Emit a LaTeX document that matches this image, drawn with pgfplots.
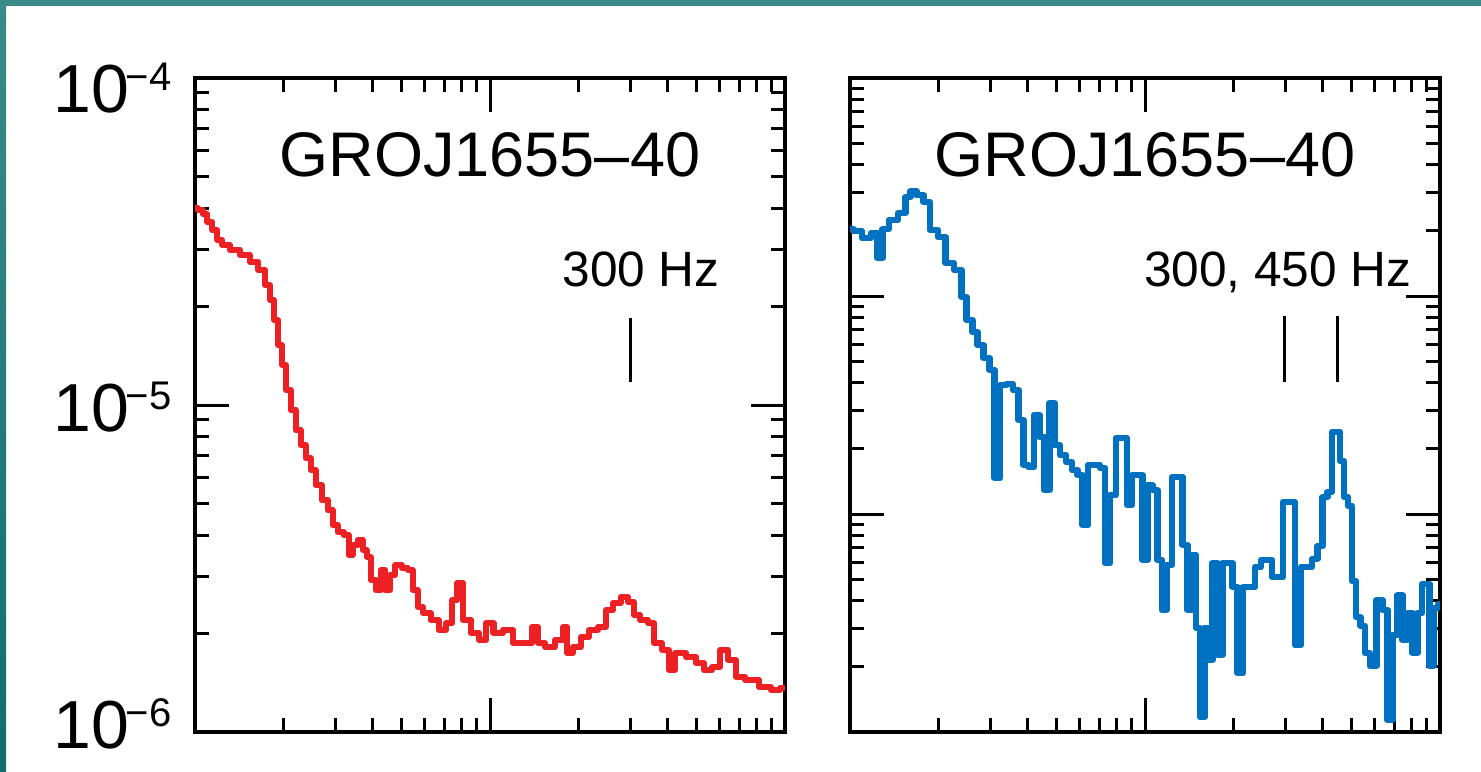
\documentclass[border=0pt]{standalone}
\usepackage{pgfplots}
\pgfplotsset{compat=1.18}
\usepackage{fontspec}
\setmainfont{Liberation Sans}
\definecolor{curvered}{RGB}{237,32,36}
\definecolor{curveblue}{RGB}{0,112,192}
\definecolor{frameteal}{RGB}{58,138,138}
\definecolor{frameteal2}{RGB}{16,110,110}
\newcommand{\tenpow}[1]{10\kern-1.5pt\raisebox{11pt}{\fontsize{20}{20}\selectfont −#1}}
\begin{document}
\begin{tikzpicture}
\path[use as bounding box, fill=white] (0,0) rectangle (740.5pt,385.5pt);
\fill[frameteal] (0,382.5pt) rectangle (740.5pt,385.5pt);
\shade[top color=frameteal, bottom color=frameteal2] (0,0) rectangle (3pt,385.5pt);
% left panel
\begin{axis}[scale only axis, width=295pt, height=327pt, anchor=south west,
  xmode=log, ymode=log, xmin=10, xmax=1000, tick align=inside,
  xticklabels={}, yticklabels={},
  major tick length=17pt, minor tick length=7pt,
  axis line style={line width=1.6pt},
  tick style={black, line width=1.5pt},
  at={(97.5pt,19.5pt)}, ymin=1e-6, ymax=1e-4]
\addplot[curvered, line width=3.0pt, const plot mark mid, line join=round] coordinates {
(10.0,40.04e-6) (10.40,39.48e-6) (10.81,38.38e-6) (11.24,36.27e-6) (11.69,34.29e-6)
(12.15,31.95e-6) (12.64,30.85e-6) (13.66,29.79e-6) (14.77,28.75e-6) (15.97,27.37e-6)
(16.87,25.87e-6) (17.68,23.28e-6) (18.24,20.95e-6) (18.82,18.19e-6) (19.42,15.26e-6)
(20.03,13.25e-6) (20.67,11.12e-6) (21.49,9.65e-6) (22.35,8.385e-6) (23.23,7.545e-6)
(24.16,6.884e-6) (25.12,6.327e-6) (26.12,5.693e-6) (27.59,5.123e-6) (28.69,4.775e-6)
(29.83,4.295e-6) (31.01,4.089e-6) (32.76,4.003e-6) (33.54,3.478e-6) (34.87,3.732e-6)
(36.26,3.866e-6) (37.70,3.603e-6) (38.59,3.429e-6) (40.12,2.916e-6) (41.72,2.718e-6)
(43.38,3.130e-6) (45.10,2.718e-6) (46.90,3.021e-6) (48.76,3.241e-6) (51.51,3.174e-6)
(53.56,3.130e-6) (55.69,2.718e-6) (57.90,2.411e-6) (60.68,2.311e-6) (65.11,2.200e-6)
(68.76,2.051e-6) (73.18,2.154e-6) (76.09,2.533e-6) (79.11,2.856e-6) (82.90,2.200e-6)
(89.67,2.009e-6) (93.95,1.911e-6) (100,2.154e-6) (105.6,2.009e-6) (116.0,2.051e-6)
(123.4,1.872e-6) (135.6,1.872e-6) (142.1,2.095e-6) (148.9,1.872e-6) (158.5,1.819e-6)
(174.1,1.911e-6) (179.6,2.095e-6) (185.3,1.744e-6) (197.2,1.819e-6) (209.9,1.952e-6)
(223.5,2.051e-6) (241.6,2.095e-6) (253.2,2.361e-6) (269.5,2.480e-6) (284.6,2.587e-6)
(303.0,2.498e-6) (312.6,2.279e-6) (332.7,2.200e-6) (354.2,2.154e-6) (365.4,1.872e-6)
(401.3,1.781e-6) (407.6,1.547e-6) (440.8,1.744e-6) (483.8,1.696e-6) (515.0,1.626e-6)
(548.2,1.547e-6) (583.7,1.580e-6) (621.3,1.781e-6) (661.4,1.660e-6) (703.8,1.473e-6)
(766.7,1.442e-6) (869.0,1.372e-6) (925.0,1.344e-6) (1000,1.364e-6)
};
\draw[line width=1.35pt] (axis cs:300,18.45e-6) -- (axis cs:300,11.76e-6);
\end{axis}
% right panel
\begin{axis}[scale only axis, width=295pt, height=327pt, anchor=south west,
  xmode=log, ymode=log, xmin=10, xmax=1000, tick align=inside,
  xticklabels={}, yticklabels={},
  major tick length=17pt, minor tick length=7pt,
  axis line style={line width=1.6pt},
  tick style={black, line width=1.5pt},
  at={(425pt,19.5pt)}, ymin=1e-7, ymax=1e-4]
\addplot[curveblue, line width=3.3pt, const plot mark mid, line join=round] coordinates {
(10.00,20.29e-6) (10.56,19.87e-6) (11.42,18.45e-6) (12.15,19.45e-6) (12.64,14.94e-6)
(13.14,20.29e-6) (13.99,22.32e-6) (15.12,24.03e-6) (15.72,28.46e-6) (16.35,30.31e-6)
(17.27,29.06e-6) (18.24,26.99e-6) (19.11,20.08e-6) (20.67,18.65e-6) (21.49,14.17e-6)
(23.60,13.16e-6) (24.16,9.895e-6) (25.52,7.761e-6) (26.53,6.838e-6) (27.59,5.961e-6)
(29.14,5.196e-6) (30.30,4.577e-6) (31.50,1.463e-6) (33.01,3.906e-6) (34.86,3.947e-6)
(36.53,3.706e-6) (37.99,2.699e-6) (39.50,1.678e-6) (41.08,1.643e-6) (43.05,2.846e-6)
(44.76,2.256e-6) (46.54,1.288e-6) (48.39,3.229e-6) (50.32,2.073e-6) (52.73,1.865e-6)
(55.26,1.732e-6) (57.90,1.592e-6) (60.21,1.510e-6) (62.61,0.8903e-6) (65.61,1.678e-6)
(68.76,1.678e-6) (72.06,1.626e-6) (74.34,0.5960e-6) (77.90,1.222e-6) (81.63,2.232e-6)
(85.55,2.232e-6) (88.27,1.100e-6) (92.51,1.510e-6) (96.18,1.510e-6) (100.0,0.6152e-6)
(104.0,1.359e-6) (108.1,1.288e-6) (112.4,0.6152e-6) (116.0,0.3628e-6) (120.6,0.5836e-6)
(126.4,1.478e-6) (131.4,1.478e-6) (136.7,0.7208e-6) (142.1,0.3628e-6) (146.6,0.6485e-6)
(151.0,0.3000e-6) (156.5,0.1172e-6) (162.0,0.3000e-6) (166.1,0.2139e-6) (172.7,0.5960e-6) (179.6,0.2255e-6)
(186.7,0.5960e-6) (194.2,0.5960e-6) (201.9,0.4626e-6) (209.9,0.1865e-6) (220.0,0.4626e-6)
(230.6,0.4626e-6) (241.6,0.5711e-6) (253.2,0.6152e-6) (265.3,0.6152e-6) (273.7,0.5142e-6)
(286.9,0.5142e-6) (300.6,1.135e-6) (315.0,1.135e-6) (330.1,0.2506e-6) (345.9,0.5711e-6)
(359.7,0.5711e-6) (376.9,0.6217e-6) (392.0,0.7132e-6) (407.5,1.197e-6) (423.8,1.261e-6)
(437.3,2.378e-6) (451.1,2.378e-6) (465.4,1.751e-6) (480.1,1.197e-6) (495.4,1.088e-6)
(511.1,0.4928e-6) (527.3,0.3370e-6) (548.2,0.3064e-6) (565.6,0.2304e-6) (592.8,0.2008e-6)
(626.1,0.4032e-6) (651.1,0.3628e-6) (677.0,0.1135e-6) (703.8,0.2786e-6) (731.8,0.4251e-6)
(760.9,0.2643e-6) (791.2,0.3514e-6) (822.7,0.2304e-6) (855.5,0.3514e-6) (882.7,0.4775e-6)
(910.7,0.4775e-6) (932.3,0.2008e-6) (969.4,0.3705e-6) (1000,0.3866e-6)
};
\draw[line width=1.35pt] (axis cs:297,8.097e-6) -- (axis cs:297,4.032e-6);
\draw[line width=1.35pt] (axis cs:450,8.097e-6) -- (axis cs:450,4.032e-6);
\end{axis}
% y tick labels (left panel)
\node[anchor=base east, font=\fontsize{34}{34}\selectfont, inner sep=0pt] at (86pt,329pt) {\tenpow{4}};
\node[anchor=base east, font=\fontsize{34}{34}\selectfont, inner sep=0pt] at (86pt,169.5pt) {\tenpow{5}};
\node[anchor=base east, font=\fontsize{34}{34}\selectfont, inner sep=0pt] at (86pt,11.5pt) {\tenpow{6}};
% titles and annotations
\node[anchor=base, font=\fontsize{31.5}{31.5}\selectfont, inner sep=0pt] at (245pt,297pt) {GROJ1655–40};
\node[anchor=base, font=\fontsize{31.5}{31.5}\selectfont, inner sep=0pt] at (572.5pt,297pt) {GROJ1655–40};
\node[anchor=base east, font=\fontsize{24.8}{24.8}\selectfont, inner sep=0pt] at (360pt,242pt) {300 Hz};
\node[anchor=base east, font=\fontsize{24.8}{24.8}\selectfont, inner sep=0pt] at (706pt,242pt) {300, 450 Hz};
\end{tikzpicture}
\end{document}
